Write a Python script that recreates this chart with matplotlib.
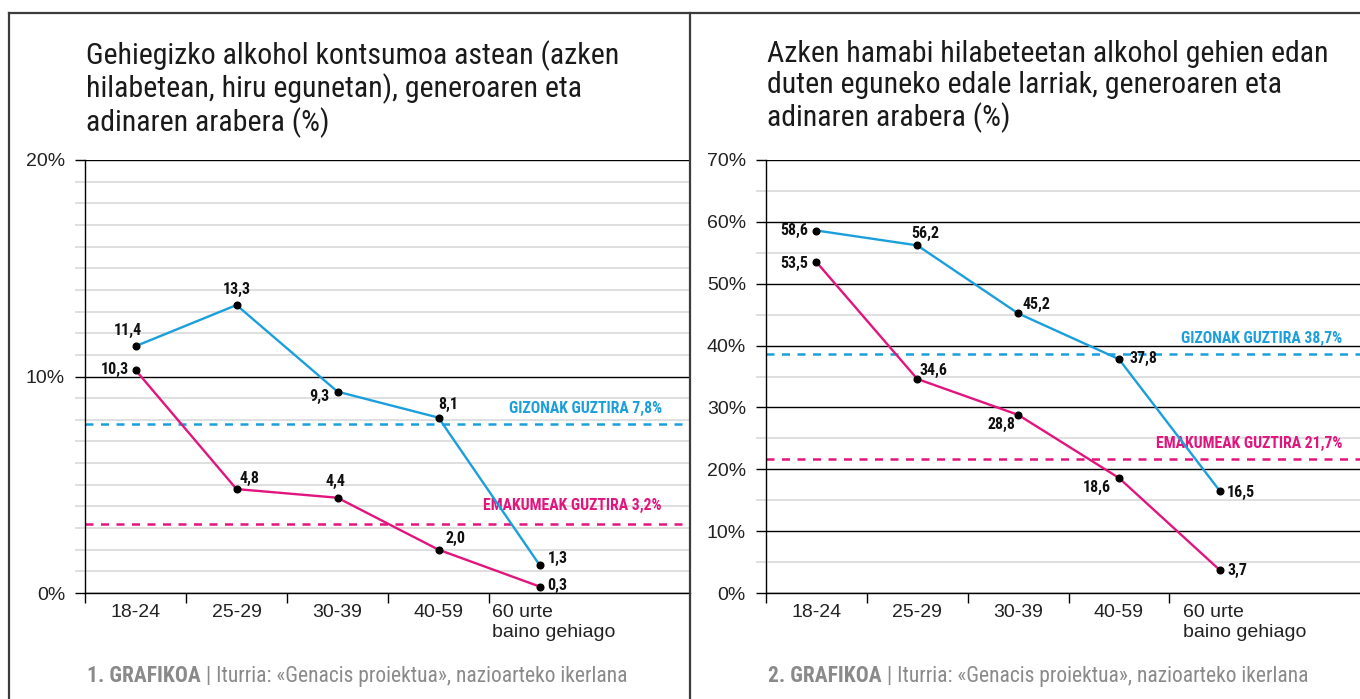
import numpy as np
import matplotlib
matplotlib.use("Agg")
import matplotlib.pyplot as plt
from matplotlib import font_manager
from matplotlib.font_manager import FontProperties
from matplotlib.lines import Line2D
from matplotlib import transforms

# ---- data ----
ages = ["18-24", "25-29", "30-39", "40-59", "60 urte\nbaino gehiago"]

# 1. grafikoa: gehiegizko kontsumoa astean
weekly_men = [11.4, 13.3, 9.3, 8.1, 1.3]
weekly_women = [10.3, 4.8, 4.4, 2.0, 0.3]
weekly_men_total = 7.8
weekly_women_total = 3.2

# 2. grafikoa: edale larriak
heavy_men = [58.6, 56.2, 45.2, 37.8, 16.5]
heavy_women = [53.5, 34.6, 28.8, 18.6, 3.7]
heavy_men_total = 38.7
heavy_women_total = 21.7

title1 = "Gehiegizko alkohol kontsumoa astean (azken\nhilabetean, hiru egunetan), generoaren eta\nadinaren arabera (%)"
title2 = "Azken hamabi hilabeteetan alkohol gehien edan\nduten eguneko edale larriak, generoaren eta\nadinaren arabera (%)"
source = " | Iturria: «Genacis proiektua», nazioarteko ikerlana"

# ---- style ----
BLUE = "#1a9fdc"
PINK = "#e2147e"
GRAY = "#8a8a8a"
LIGHT = "#d6d6d6"

names = {f.name for f in font_manager.fontManager.ttflist}
COND = next((n for n in ["Roboto Condensed", "Liberation Sans Narrow", "DejaVu Sans"] if n in names), "DejaVu Sans")
REG = next((n for n in ["Liberation Sans", "DejaVu Sans"] if n in names), "DejaVu Sans")
plt.rcParams["font.family"] = [REG, "DejaVu Sans"]


def bold_cond(size):
    return FontProperties(family=COND, weight="bold", size=size)


W, H = 1360, 699
fig = plt.figure(figsize=(W / 100, H / 100), dpi=100)
PX = 72 / 100  # pixels -> points


def fx(px):
    return px / W


def fy(py):
    return 1 - py / H


def fmt(v):
    return f"{v:.1f}".replace(".", ",")


# label offsets in pixels (dx, dy up, ha)
off1_men = [(-8, 16, "center"), (0, 16, "center"), (-8, -5, "right"), (10, 13, "center"), (8, 6, "left")]
off1_women = [(-7, 1, "right"), (13, 11, "center"), (-2, 16, "center"), (17, 11, "center"), (8, 1, "left")]
off2_men = [(-8, 0, "right"), (8, 12, "center"), (18, 9, "center"), (11, 1, "left"), (7, -2, "left")]
off2_women = [(-8, -1, "right"), (16, 8, "center"), (-17, -10, "center"), (-22, -10, "center"), (8, 0, "left")]


def panel(left_px, right_px, xmax, ymax, major, minor, men, women,
          men_tot, women_tot, offm, offw, lab_dx, lab_dy, last_dx, title, num):
    ax = fig.add_axes([fx(left_px), fy(593), fx(right_px - left_px), (593 - 160) / H])
    x = np.arange(len(ages))
    ax.set_xlim(-0.5, xmax)
    ax.set_ylim(0, ymax)

    ax.set_yticks(major)
    ax.set_yticks(minor, minor=True)
    ax.set_yticklabels([f"{v}%" for v in major])
    ax.tick_params(axis="y", which="major", length=10 * PX, width=1, color="black",
                   pad=10 * PX, labelsize=14, labelcolor="#222222")
    ax.tick_params(axis="y", which="minor", length=10 * PX, width=1.1, color=LIGHT)
    ax.grid(axis="y", which="major", color="black", lw=1.0)
    ax.grid(axis="y", which="minor", color=LIGHT, lw=1.1)
    ax.set_axisbelow(True)

    ax.set_xticks(np.arange(-0.5, len(ages) - 1))
    ax.set_xticklabels([])
    ax.tick_params(axis="x", length=10 * PX, width=1, color="black")
    for s in ["top", "right"]:
        ax.spines[s].set_visible(False)
    ax.spines["left"].set_linewidth(1.0)
    ax.spines["bottom"].set_linewidth(1.0)

    # age labels under the axis
    for i, lab in enumerate(ages):
        if "\n" in lab:
            ax.annotate(lab, (i - 0.5, 0), xytext=(last_dx * PX, -11 * PX), textcoords="offset points",
                        ha="left", va="top", fontsize=14, color="#222222", linespacing=1.2,
                        annotation_clip=False)
        else:
            ax.annotate(lab, (i, 0), xytext=(0, -11 * PX), textcoords="offset points",
                        ha="center", va="top", fontsize=14, color="#222222",
                        annotation_clip=False)

    # totals
    ax.axhline(men_tot, color=BLUE, lw=1.8, dashes=(3.2, 3.0), zorder=2)
    ax.axhline(women_tot, color=PINK, lw=1.8, dashes=(3.2, 3.0), zorder=2)
    tr = transforms.blended_transform_factory(ax.transAxes, ax.transData)
    ax.annotate(f"GIZONAK GUZTIRA {fmt(men_tot)}%", (1, men_tot), xycoords=tr,
                xytext=(lab_dx * PX, lab_dy[0] * PX), textcoords="offset points",
                ha="right", va="center", color=BLUE, fontproperties=bold_cond(11.3))
    ax.annotate(f"EMAKUMEAK GUZTIRA {fmt(women_tot)}%", (1, women_tot), xycoords=tr,
                xytext=(lab_dx * PX, lab_dy[1] * PX), textcoords="offset points",
                ha="right", va="center", color=PINK, fontproperties=bold_cond(11.3))

    # series
    for vals, col, offs in [(men, BLUE, offm), (women, PINK, offw)]:
        ax.plot(x, vals, color=col, lw=1.7, zorder=3, clip_on=False)
        ax.plot(x, vals, "o", color="black", ms=4.8, zorder=4, clip_on=False)
        for xi, v, (dx, dy, ha) in zip(x, vals, offs):
            ax.annotate(fmt(v), (xi, v), xytext=(dx * PX, dy * PX), textcoords="offset points",
                        ha=ha, va="center", fontproperties=bold_cond(11.5),
                        color="#111111", zorder=5)

    fig.text(fx(left_px + 1), fy(40), title, ha="left", va="top", fontsize=21.5,
             linespacing=1.13, color="#1a1a1a", family=COND)
    t1 = fig.text(fx(left_px + 2), fy(682), f"{num}. GRAFIKOA", ha="left", va="baseline",
                  fontsize=15.5, fontweight="bold", color=GRAY, family=COND)
    ax.annotate(source, (1, 0), xycoords=t1, ha="left", va="bottom",
                fontsize=15.5, color=GRAY, family=COND, annotation_clip=False)
    return ax


panel(85, 690, 5.49, 20, [0, 10, 20], [v for v in range(21) if v % 10],
      weekly_men, weekly_women, weekly_men_total, weekly_women_total,
      off1_men, off1_women, -28, (16, 18), 3, title1, 1)
panel(766, 1360, 5.39, 70, list(range(0, 71, 10)), list(range(5, 70, 10)),
      heavy_men, heavy_women, heavy_men_total, heavy_women_total,
      off2_men, off2_women, -18, (15, 15), 14, title2, 2)

# outer frame
FRAME = "#3c3c3c"
for xs, ys in [([9, 9], [13, H]), ([9, W], [13, 13]), ([690, 690], [13, H])]:
    fig.add_artist(Line2D([fx(v) for v in xs], [fy(v) for v in ys],
                          transform=fig.transFigure, color=FRAME, lw=1.6))

fig.savefig("out.png", dpi=100)
